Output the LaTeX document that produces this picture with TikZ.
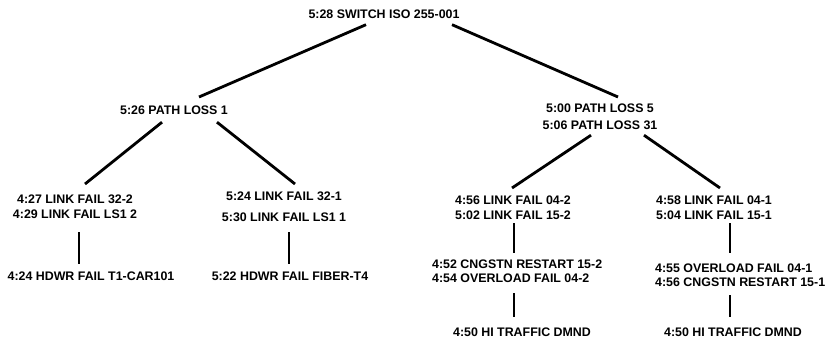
\documentclass[tikz,border=0pt]{standalone}
\usepackage{fontspec}
\setmainfont{Liberation Sans}
\usetikzlibrary{calc}
\begin{document}
\begin{tikzpicture}[x=1pt,y=-1pt,
  lbl/.style={inner sep=0pt,anchor=north,align=center,
    font=\fontsize{12.4pt}{15pt}\selectfont\bfseries},
  lbll/.style={lbl,align=left,anchor=north west},
  conn/.style={line width=2.8pt}]
\useasboundingbox (0,0) rectangle (830,339);
% nodes
\node[lbl] (top) at (384,9.5) {5:28 SWITCH ISO 255-001};
\node[lbl] (pl1) at (174,105.5) {5:26 PATH LOSS 1};
\node[lbl,font=\fontsize{12.4pt}{17pt}\selectfont\bfseries] (pl5) at (600,103.5) {5:00 PATH LOSS 5\\5:06 PATH LOSS 31};
\node[lbl] (lf322) at (75,194.5) {4:27 LINK FAIL 32-2\\4:29 LINK FAIL LS1 2};
\node[lbl,font=\fontsize{12.4pt}{21pt}\selectfont\bfseries] (lf321) at (284,191.5) {5:24 LINK FAIL 32-1\\5:30 LINK FAIL LS1 1};
\node[lbl] (hw1) at (91,271.5) {4:24 HDWR FAIL T1-CAR101};
\node[lbl] (hw2) at (290,271.5) {5:22 HDWR FAIL FIBER-T4};
\node[lbl] (lf042) at (513,195.5) {4:56 LINK FAIL 04-2\\5:02 LINK FAIL 15-2};
\node[lbl] (lf041) at (714,195.5) {4:58 LINK FAIL 04-1\\5:04 LINK FAIL 15-1};
\node[lbll,font=\fontsize{12.4pt}{14pt}\selectfont\bfseries] (cr152) at (432,259.5) {4:52 CNGSTN RESTART 15-2\\4:54 OVERLOAD FAIL 04-2};
\node[lbll,font=\fontsize{12.4pt}{14pt}\selectfont\bfseries] (ol041) at (655,263.5) {4:55 OVERLOAD FAIL 04-1\\4:56 CNGSTN RESTART 15-1};
\node[lbl] (ht1) at (522,328) {4:50 HI TRAFFIC DMND};
\node[lbl] (ht2) at (733,328) {4:50 HI TRAFFIC DMND};
% connectors
\draw[conn] ($(top.south)+(-18,6)$) -- ($(pl1.north)+(25,-8.5)$);
\draw[conn] ($(top.south)+(68,6)$) -- ($(pl5.north)+(18,-6.5)$);
\draw[conn] ($(pl1.south)+(-12,7.5)$) -- ($(lf322.north)+(10,-10.5)$);
\draw[conn] ($(pl1.south)+(43,7.5)$) -- ($(lf321.north)+(11,-7.5)$);
\draw[conn] ($(pl5.south)+(-9,5.5)$) -- ($(lf042.north)+(-1,-7.5)$);
\draw[conn] ($(pl5.south)+(44,5.5)$) -- ($(lf041.north)+(6,-7.5)$);
\draw[conn] ($(lf322.south)+(4,13.5)$) -- ($(hw1.north)+(-12,-7.5)$);
\draw[conn] ($(lf321.south)+(5,10.5)$) -- ($(hw2.north)+(-1,-7.5)$);
\draw[conn] ($(lf042.south)+(1,3.5)$) -- ($(cr152.north west)+(82,-6.5)$);
\draw[conn] ($(lf041.south)+(16,3.5)$) -- ($(ol041.north west)+(75,-10.5)$);
\draw[conn] ($(cr152.south west)+(82,10.5)$) -- ($(ht1.north)+(-8,-11)$);
\draw[conn] ($(ol041.south west)+(75,8.5)$) -- ($(ht2.north)+(-3,-11)$);
\end{tikzpicture}
\end{document}
